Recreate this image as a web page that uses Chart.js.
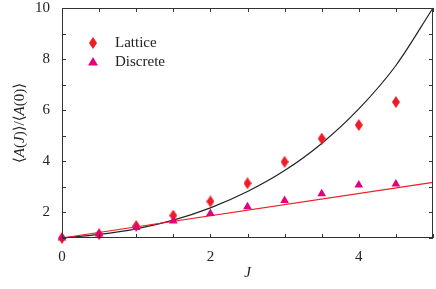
<!DOCTYPE html>
<html><head><meta charset="utf-8">
<script src="https://cdn.jsdelivr.net/npm/chart.js@4/dist/chart.umd.min.js"></script>
<style>html,body{margin:0;padding:0;background:#fff}canvas{display:block}</style>
</head><body>
<canvas id="c" width="436" height="289"></canvas>
<script>
const J = [0, 0.5, 1, 1.5, 2, 2.5, 3, 3.5, 4, 4.5];
const lattice = [1.0, 1.15, 1.47, 1.88, 2.43, 3.14, 3.98, 4.89, 5.42, 6.32];
const discrete = [1.0, 1.16, 1.41, 1.67, 1.96, 2.22, 2.47, 2.73, 3.07, 3.11];
const curveJ = [0, 0.5, 1, 1.5, 2, 2.5, 3, 3.5, 4, 4.5, 5];
const curveVals = [1, 1.14, 1.36, 1.70, 2.18, 2.82, 3.64, 4.70, 6.05, 7.75, 10];
const lineJ = [0, 5];
const lineVals = [1, 3.18];
const xTickLabels = [0, 2, 4];
const yTickLabels = [2, 4, 6, 8, 10];
const seriesNames = ['Lattice', 'Discrete'];

const RED = 'rgb(238,28,37)';
const MAG = 'rgb(228,0,124)';
const SERIF = '"Liberation Serif", "DejaVu Serif", serif';

function diamondCanvas(w, h, color) {
  const c = document.createElement('canvas');
  c.width = w; c.height = h;
  const g = c.getContext('2d');
  g.fillStyle = color;
  g.beginPath();
  g.moveTo(w / 2, 0); g.lineTo(w, h / 2); g.lineTo(w / 2, h); g.lineTo(0, h / 2);
  g.closePath(); g.fill();
  return c;
}
const diamond = diamondCanvas(8, 12, RED);

const pts = (xs, ys) => xs.map((x, i) => ({x: x, y: ys[i]}));

const frame = {
  id: 'frame',
  afterDraw(chart) {
    const {ctx, chartArea: a, scales: {x, y}} = chart;
    ctx.save();
    ctx.strokeStyle = '#333';
    ctx.lineWidth = 1;
    ctx.strokeRect(a.left + 0.5, a.top + 0.5, a.right - a.left - 1, a.bottom - a.top - 1);
    const L = 4;
    ctx.beginPath();
    for (let v = 0; v <= 5.0001; v += 0.5) {
      const px = Math.round(x.getPixelForValue(v)) + 0.5;
      ctx.moveTo(px, a.bottom); ctx.lineTo(px, a.bottom - L);
      ctx.moveTo(px, a.top); ctx.lineTo(px, a.top + L);
    }
    for (let v = 1; v <= 10; v += 1) {
      const py = Math.round(y.getPixelForValue(v)) + 0.5;
      ctx.moveTo(a.left, py); ctx.lineTo(a.left + L, py);
      ctx.moveTo(a.right, py); ctx.lineTo(a.right - L, py);
    }
    ctx.stroke();
    // legend
    const lx = 93, ly1 = 43, ly2 = 62;
    ctx.drawImage(diamond, lx - 4, ly1 - 6);
    ctx.fillStyle = MAG;
    ctx.beginPath();
    ctx.moveTo(lx, ly2 - 5); ctx.lineTo(lx + 5, ly2 + 3.5); ctx.lineTo(lx - 5, ly2 + 3.5);
    ctx.closePath(); ctx.fill();
    ctx.fillStyle = '#222';
    ctx.font = '15px ' + SERIF;
    ctx.textBaseline = 'middle';
    ctx.textAlign = 'left';
    ctx.fillText(seriesNames[0], 115, ly1);
    ctx.fillText(seriesNames[1], 115, ly2);
    // y title
    ctx.save();
    ctx.translate(20, (a.top + a.bottom) / 2);
    ctx.rotate(-Math.PI / 2);
    ctx.textAlign = 'left';
    const parts = [['\u27E8', false], ['A', true], ['(', false], ['J', true], [')\u27E9/\u27E8', false], ['A', true], ['(0)\u27E9', false]];
    let total = 0;
    parts.forEach(p => { ctx.font = (p[1] ? 'italic ' : '') + '15px ' + SERIF; total += ctx.measureText(p[0]).width; });
    let cx = -total / 2;
    parts.forEach(p => { ctx.font = (p[1] ? 'italic ' : '') + '15px ' + SERIF; ctx.fillText(p[0], cx, 0); cx += ctx.measureText(p[0]).width; });
    ctx.restore();
    // x title
    ctx.font = 'italic 15px ' + SERIF;
    ctx.textAlign = 'center';
    ctx.fillText('J', (a.left + a.right) / 2, 273);
    ctx.restore();
  }
};

new Chart(document.getElementById('c'), {
  type: 'scatter',
  data: {
    datasets: [
      {label: 'fit-lattice', type: 'line', data: pts(curveJ, curveVals), borderColor: '#222', borderWidth: 1.2,
       pointRadius: 0, cubicInterpolationMode: 'monotone', fill: false, order: 4},
      {label: 'fit-discrete', type: 'line', data: pts(lineJ, lineVals), borderColor: RED, borderWidth: 1.2,
       pointRadius: 0, fill: false, order: 3},
      {label: seriesNames[0], data: pts(J, lattice), pointStyle: diamond, pointRadius: 6, order: 2},
      {label: seriesNames[1], data: pts(J, discrete), pointStyle: 'triangle', pointRadius: 5,
       backgroundColor: MAG, borderColor: MAG, borderWidth: 0, order: 1}
    ]
  },
  options: {
    responsive: false,
    animation: false,
    devicePixelRatio: 1,
    clip: false,
    layout: {autoPadding: false, padding: {top: 8, right: 3, left: 0, bottom: 0}},
    plugins: {legend: {display: false}, tooltip: {enabled: false}},
    scales: {
      x: {
        type: 'linear', min: 0, max: 5,
        grid: {display: false, drawTicks: false},
        border: {display: false},
        ticks: {stepSize: 0.5, color: '#222', font: {family: SERIF, size: 15}, padding: 10,
          maxRotation: 0, autoSkip: false,
          callback: v => xTickLabels.includes(v) ? String(v) : ''},
        afterFit: s => { s.height = 51; s.paddingLeft = 0; s.paddingRight = 0; }
      },
      y: {
        type: 'linear', min: 1, max: 10,
        grid: {display: false, drawTicks: false},
        border: {display: false},
        ticks: {stepSize: 1, color: '#222', font: {family: SERIF, size: 15}, padding: 12, autoSkip: false,
          callback: v => yTickLabels.includes(v) ? String(v) : ''},
        afterFit: s => { s.width = 62; s.paddingTop = 0; s.paddingBottom = 0; }
      }
    }
  },
  plugins: [frame]
});
</script>
</body></html>
